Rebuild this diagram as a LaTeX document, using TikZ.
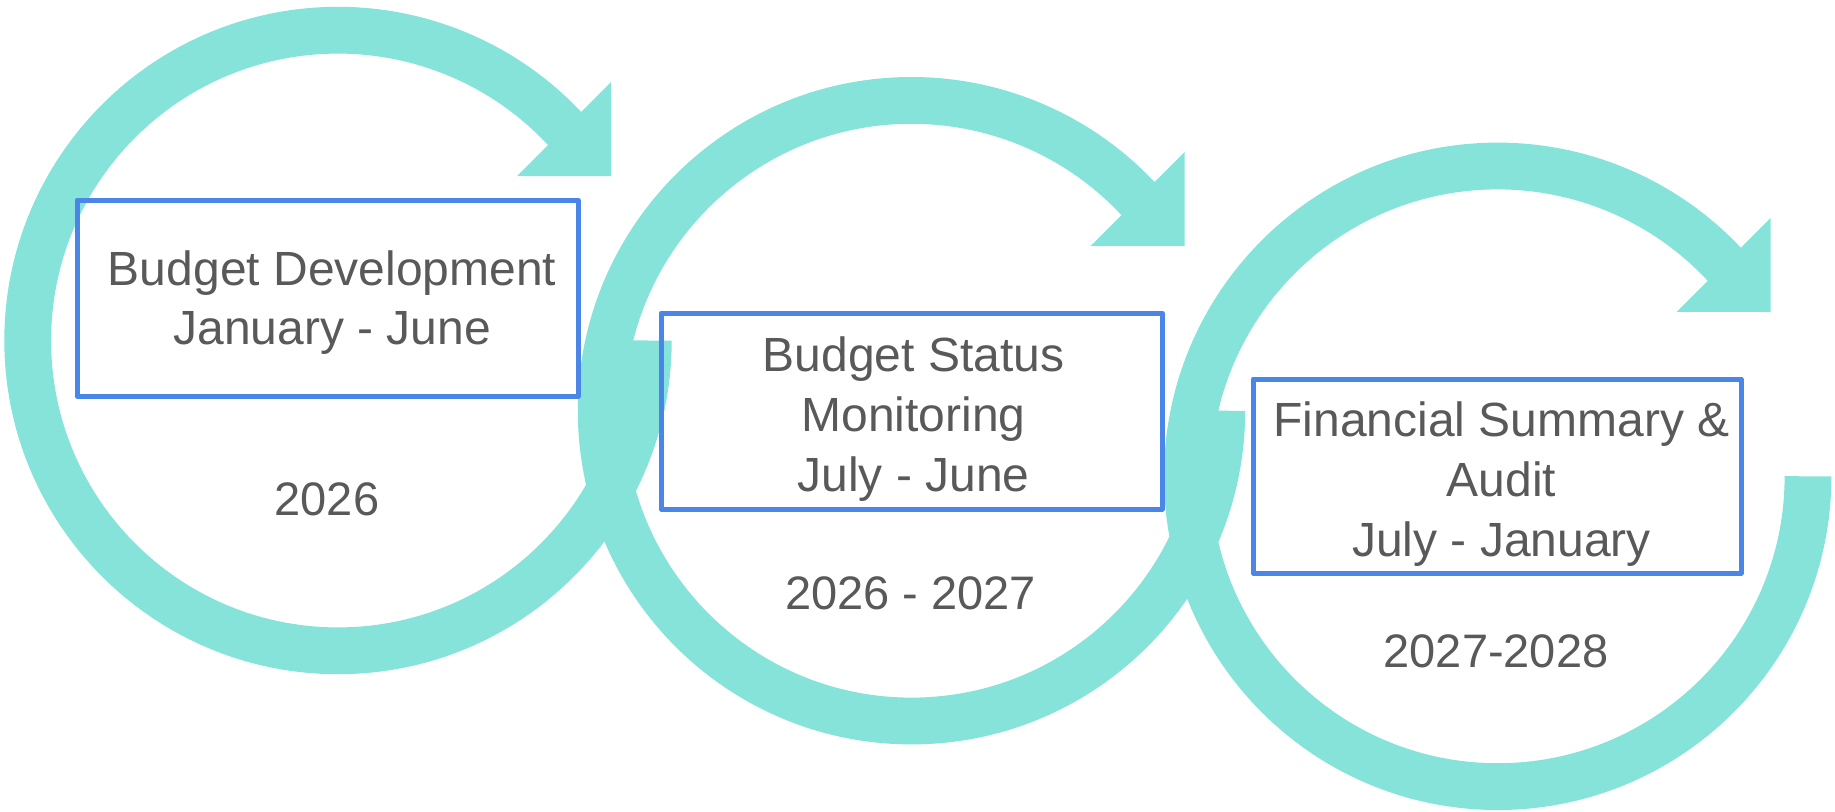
\documentclass[tikz,border=0pt]{standalone}
\usepackage{fontspec}
\setmainfont{Liberation Sans}
\usetikzlibrary{calc}
\definecolor{ringteal}{RGB}{134,227,218}
\definecolor{boxblue}{RGB}{74,134,232}
\definecolor{textgrey}{RGB}{89,89,89}
\tikzset{
  ring/.style={line width=23.4pt, draw=ringteal},
  ringtip/.style={fill=ringteal},
  stagebox/.style={draw=boxblue, line width=2.5pt, line join=round, inner sep=0pt},
  stagetext/.style={inner sep=0pt, align=center, text=textgrey, font=\fontsize{24}{29.8}\selectfont},
  yearlabel/.style={inner sep=0pt, text=textgrey, font=\fontsize{23.5}{29}\selectfont}
}
\begin{document}
\begin{tikzpicture}[x=0.5pt,y=0.5pt]
            \useasboundingbox (0,0) rectangle (1835,811);
            
            % Centres of the three rings
            \coordinate (c1) at (338,470.5);
            \coordinate (c2) at (911.5,400.3);
            \coordinate (c3) at (1497.7,334.7);
            
            % Drawing ring 1, clockwise from the right
            \draw [ring] ($(c1)+(310.3,0)$) arc [start angle=0, end angle=-319, radius=310.3];%
            \fill [ringtip] ($(c1)+(273,258.5)$) -- ($(c1)+(273,164.5)$) -- ($(c1)+(179,164.5)$) -- cycle;%
            
            % Drawing ring 2
            \draw [ring] ($(c2)+(310.3,0)$) arc [start angle=0, end angle=-319, radius=310.3];%
            \fill [ringtip] ($(c2)+(273,258.5)$) -- ($(c2)+(273,164.5)$) -- ($(c2)+(179,164.5)$) -- cycle;%
            
            % Drawing ring 3
            \draw [ring] ($(c3)+(310.3,0)$) arc [start angle=0, end angle=-319, radius=310.3];%
            \fill [ringtip] ($(c3)+(273,258.5)$) -- ($(c3)+(273,164.5)$) -- ($(c3)+(179,164.5)$) -- cycle;%
            
            % Marking stage boxes
            \node [stagebox, minimum width=250.5pt, minimum height=98pt] (budgetdev) at (327.5,513) {};%
            \node [stagebox, minimum width=250.5pt, minimum height=98pt] (statusmon) at (911.5,400) {};%
            \node [stagebox, minimum width=244pt, minimum height=97pt] (finaudit) at (1497,335) {};%
            
            % Texts of the stage boxes
            \node [stagetext] (budgetdevtext) at ([xshift=2.3pt,yshift=-2.3pt]budgetdev.center) {Budget Development\\January - June};%
            \node [stagetext] (statusmontext) at ([xshift=1pt,yshift=-4pt]statusmon.center) {Budget Status\\Monitoring\\ July - June};%
            \node [stagetext] (finaudittext) at ([xshift=2.3pt,yshift=-4pt]finaudit.center) {Financial Summary \&\\Audit\\July - January};%
            
            % Marking years
            \node [yearlabel] (year1) at (327,312) {2026};%
            \node [yearlabel] (year2) at (910.5,217.5) {2026 - 2027};%
            \node [yearlabel] (year3) at (1496,159.2) {2027-2028};%
        \end{tikzpicture}
\end{document}
